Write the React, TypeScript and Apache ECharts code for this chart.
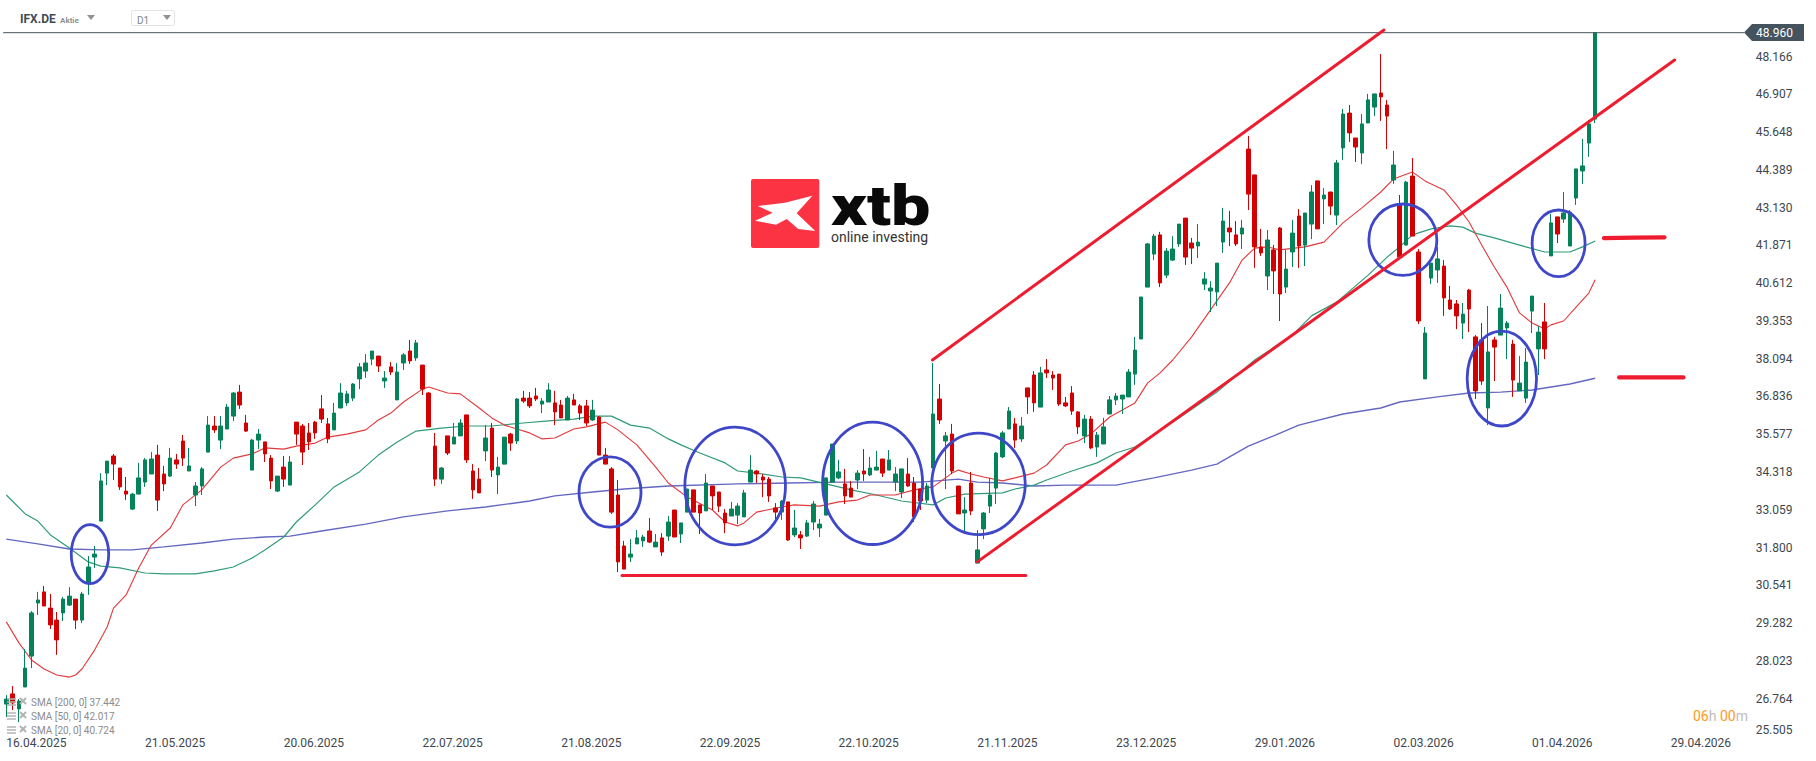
import React, { useEffect, useRef } from "react";
import * as echarts from "echarts";

const opens = [26.58,26.92,26.42,27.15,28.18,29.95,30.32,29.78,29.38,29.62,
29.88,30.08,29.38,30.62,31.48,32.68,34.28,34.85,34.45,33.68,
33.08,33.58,33.98,34.25,34.88,34.25,34.18,34.72,35.35,34.35,
33.55,33.85,34.98,35.85,35.38,35.75,36.18,36.98,35.95,34.38,
35.38,35.32,34.78,33.68,34.48,33.88,35.98,35.85,35.62,35.98,
36.42,35.92,35.72,36.45,36.62,36.78,37.42,37.68,38.08,38.18,
37.35,37.82,36.72,37.95,38.35,38.12,37.88,36.95,35.18,34.08,
35.52,35.25,35.52,36.22,34.35,34.08,35.02,35.78,34.22,34.58,
35.58,35.35,36.78,36.78,36.85,36.58,36.65,36.62,36.55,36.05,
36.72,36.52,36.52,36.05,36.15,34.88,34.42,33.55,31.85,31.48,
31.92,32.02,32.35,31.82,32.12,32.18,33.05,32.25,32.98,33.72,
33.22,33.02,33.85,33.65,32.95,32.85,32.88,32.82,33.98,34.35,
34.15,34.08,33.12,32.98,33.32,32.22,32.22,32.18,32.65,32.45,
32.88,33.98,34.12,33.92,33.78,34.05,34.35,34.22,34.38,34.75,
34.38,33.98,33.65,34.25,33.95,33.75,33.38,34.45,36.75,35.35,
35.58,33.85,32.95,33.95,31.28,32.42,33.18,33.78,34.82,35.75,
35.92,35.42,37.12,37.55,36.48,37.72,37.55,37.58,36.62,36.95,
36.32,35.52,36.08,35.15,35.25,36.25,36.72,36.75,36.82,37.58,
38.75,40.48,41.58,42.22,40.88,41.38,41.92,42.78,41.95,41.85,
40.58,40.35,40.32,41.98,42.45,42.22,42.25,45.08,44.22,41.82,
40.85,41.72,42.45,40.48,41.65,42.85,41.88,42.58,44.02,43.42,
43.65,42.88,45.12,46.28,45.45,44.95,45.95,46.48,46.95,46.55,
44.05,43.22,41.88,44.18,41.65,37.42,40.78,41.05,41.18,40.05,
39.92,39.28,40.38,38.82,38.72,36.45,38.72,38.88,39.12,38.58,
37.02,36.78,39.68,38.42,39.32,41.52,42.82,42.75,41.85,43.45,
44.35,45.28,46.08];

const closes = [26.75,26.62,26.68,27.78,29.62,30.05,29.85,29.22,28.72,30.08,
30.18,29.38,30.25,31.15,31.58,34.02,34.68,34.58,33.82,33.58,
33.58,34.12,34.72,34.75,33.38,33.92,34.78,34.58,34.78,34.52,
33.85,34.42,35.88,35.72,35.85,36.48,36.95,36.55,35.68,35.38,
35.58,34.92,34.02,34.18,34.08,34.65,35.58,34.98,35.32,35.62,
36.08,35.42,36.28,36.95,36.92,37.25,37.82,37.95,38.35,37.85,
37.45,37.65,37.65,38.22,38.02,38.62,37.08,35.82,34.08,34.45,
34.95,35.48,35.95,34.72,33.72,33.62,35.45,34.38,34.48,35.48,
35.28,36.75,36.68,36.52,36.75,36.68,37.05,36.32,36.12,36.78,
36.55,36.28,35.95,36.38,34.88,34.58,32.98,31.32,31.08,31.58,
32.12,32.15,31.98,31.98,31.65,32.65,32.15,32.62,33.75,32.98,
32.95,33.95,33.52,33.18,32.62,33.08,33.18,33.62,34.38,34.25,
34.05,33.52,32.98,33.35,32.05,32.45,32.12,32.62,33.25,32.58,
34.12,35.25,34.32,33.52,33.48,34.28,34.25,34.45,34.48,34.28,
34.72,34.25,34.42,33.85,32.82,33.35,33.85,36.25,36.05,35.52,
34.35,32.92,33.05,33.02,31.72,32.95,33.55,34.95,35.62,36.35,
35.38,35.85,36.82,36.62,37.62,37.62,37.45,36.58,36.52,36.35,
35.82,36.08,35.12,35.55,35.82,36.72,36.85,36.88,37.65,38.38,
40.15,41.92,42.18,40.62,41.68,41.75,42.58,41.48,41.78,41.98,
40.75,40.45,41.28,42.68,42.32,41.92,42.45,43.58,41.82,41.62,
42.05,41.02,40.25,41.08,42.28,41.85,42.95,43.65,42.42,43.55,
43.18,44.62,46.25,45.62,45.15,45.92,46.72,46.92,46.82,46.18,
44.55,41.48,43.98,42.18,39.35,38.95,41.28,41.42,40.12,39.75,
39.52,39.58,39.75,37.02,37.35,38.32,38.48,39.78,39.28,37.38,
37.28,37.98,40.18,38.98,38.42,42.62,42.25,42.95,42.98,44.42,
44.52,45.92,48.96];

const lows = [26.15,26.38,25.98,27.15,27.78,29.55,29.85,29.08,28.22,29.35,
29.85,29.08,29.28,30.22,31.12,32.68,33.88,34.05,33.72,33.38,
33.05,33.58,33.82,34.25,33.02,33.68,34.15,34.42,34.52,34.35,
33.18,33.55,34.98,35.62,35.08,35.75,36.02,36.42,35.65,34.38,
35.08,34.65,33.75,33.65,33.82,33.88,35.22,34.55,35.05,35.42,
35.95,35.28,35.72,36.45,36.52,36.68,37.08,37.45,37.88,37.65,
37.12,37.55,36.72,37.72,37.92,38.02,36.88,35.82,33.85,33.92,
34.88,35.25,35.52,34.62,33.42,33.62,34.68,34.15,33.58,34.58,
35.02,35.25,36.62,36.45,36.68,36.28,36.65,35.88,36.12,36.05,
36.55,36.05,35.85,36.02,34.88,34.58,32.92,30.98,31.08,31.32,
31.92,31.82,31.95,31.82,31.52,32.02,32.15,31.95,32.98,32.98,
32.25,33.02,33.05,32.98,32.28,32.85,32.58,32.82,33.98,33.95,
33.48,33.32,32.72,32.72,32.02,32.15,31.75,32.15,32.38,32.15,
32.88,33.98,34.08,33.25,33.48,33.75,34.02,34.18,34.38,34.15,
34.38,33.68,33.45,33.82,32.65,33.05,33.28,34.45,35.92,33.75,
34.25,32.92,32.35,32.88,31.28,32.08,32.95,33.25,34.78,35.75,
35.12,35.32,36.25,36.32,36.48,37.45,37.05,36.52,36.48,36.22,
35.58,35.28,35.08,34.82,35.25,36.25,36.55,36.25,36.82,37.22,
38.75,40.48,41.38,40.48,40.78,41.35,41.82,41.22,41.25,41.45,
40.38,39.65,39.85,41.62,41.85,41.85,41.75,43.05,41.12,41.52,
40.38,40.25,39.35,40.28,41.15,41.12,41.18,42.08,42.42,42.58,
42.88,42.55,44.72,45.32,44.65,44.58,45.95,46.18,46.02,45.08,
43.92,41.48,41.88,42.18,39.25,37.42,40.58,40.62,39.52,39.72,
39.08,38.75,38.98,36.75,37.22,35.88,37.35,38.88,38.08,36.82,
37.02,36.62,38.95,37.55,38.08,41.52,41.95,42.62,41.85,43.22,
43.92,44.82,45.95];

const highs = [26.88,27.18,26.75,28.42,29.68,30.32,30.52,30.25,29.65,30.15,
30.48,30.08,30.32,31.52,31.85,34.28,34.68,34.92,34.45,34.15,
33.62,34.62,34.78,34.98,35.22,34.52,35.12,34.92,35.55,35.12,
33.98,34.48,36.18,36.18,36.18,36.58,36.98,37.22,36.22,35.42,
35.75,35.32,34.88,34.18,34.85,34.85,35.98,35.92,35.95,36.02,
36.88,36.12,36.62,37.28,37.02,37.28,37.95,38.25,38.35,38.18,
37.68,37.98,37.95,38.28,38.72,38.72,37.88,36.98,35.62,34.48,
35.52,35.95,36.08,36.22,34.58,34.45,35.88,35.95,34.82,35.48,
35.62,36.78,37.02,36.98,37.12,36.78,37.28,37.02,36.72,36.85,
36.92,36.58,36.72,36.72,36.18,35.12,34.48,34.05,32.02,32.08,
32.38,32.22,32.78,32.25,32.28,32.85,33.05,32.62,33.75,33.72,
33.22,34.25,33.85,33.65,33.08,33.32,33.28,33.72,34.88,34.38,
34.25,34.15,33.28,33.38,33.32,33.05,32.35,32.72,33.35,32.75,
34.12,35.25,34.72,34.42,34.02,34.38,35.08,34.82,35.02,34.75,
35.05,34.48,34.42,34.78,34.15,33.75,33.95,37.95,37.25,35.65,
35.92,33.85,33.48,34.32,32.38,32.98,34.12,34.98,35.68,36.48,
36.12,36.15,37.12,37.68,37.82,38.08,37.68,37.58,36.82,37.18,
36.35,36.22,36.18,35.65,36.12,36.85,36.95,36.88,37.75,38.82,
40.15,41.95,42.25,42.32,41.78,42.18,42.58,42.78,42.12,42.58,
40.98,40.68,41.28,43.12,43.02,42.68,42.72,45.52,44.22,42.42,
42.38,41.88,42.48,41.72,42.72,43.08,42.95,43.88,44.02,43.78,
43.65,44.72,46.42,46.55,45.45,46.25,46.92,46.92,48.25,46.72,
45.02,43.55,44.02,44.78,41.75,39.15,41.28,41.82,41.38,40.52,
40.05,39.95,40.42,38.88,39.28,39.85,38.82,40.25,39.35,38.72,
38.18,38.45,40.18,39.18,39.95,42.92,42.82,43.65,43.05,44.42,
45.42,46.05,48.96];

const sma20 = [[0,29.32],[2,28.62],[4,28.05],[6,27.75],[8,27.55],[10,27.48],[11,27.55],[12,27.75],[14,28.38],[16,29.15],[17,29.78],[19,30.22],[21,31.12],[23,31.88],[26,32.45],[28,33.22],[31,33.72],[34,34.48],[36,34.78],[39,34.92],[41,35.12],[44,35.08],[46,35.18],[49,35.28],[51,35.48],[54,35.58],[57,35.72],[59,36.05],[61,36.28],[63,36.65],[66,37.08],[67,37.15],[70,36.95],[72,36.92],[75,36.45],[77,36.12],[79,35.88],[81,35.75],[83,35.62],[85,35.42],[87,35.45],[90,35.75],[92,35.82],[95,35.98],[97,35.72],[100,35.22],[103,34.48],[105,33.95],[108,33.48],[112,33.05],[114,32.65],[116,32.52],[117,32.62],[119,32.98],[123,33.15],[125,33.22],[129,33.18],[132,33.32],[135,33.38],[137,33.55],[141,33.55],[144,33.72],[147,33.82],[150,34.28],[151,34.38],[153,34.25],[155,34.15],[158,34.02],[160,34.12],[163,34.28],[165,34.55],[168,35.22],[170,35.35],[172,35.58],[175,36.15],[179,36.62],[181,37.28],[183,37.62],[185,38.05],[188,38.82],[191,39.72],[194,40.62],[196,41.38],[198,41.78],[200,41.82],[202,41.72],[206,41.82],[209,41.98],[212,42.62],[215,43.12],[218,43.65],[220,44.08],[223,44.32],[225,44.02],[228,43.72],[230,43.22],[232,42.65],[234,41.88],[236,41.15],[238,40.48],[240,39.62],[242,39.28],[244,39.08],[245,39.22],[247,39.35],[249,39.82],[251,40.28],[252,40.724]];

const sma50 = [[0,33.55],[3,32.92],[5,32.68],[7,32.22],[10,31.78],[13,31.32],[15,31.18],[18,31.12],[22,30.95],[25,30.92],[30,30.92],[33,31.02],[36,31.15],[39,31.45],[41,31.72],[44,32.15],[46,32.65],[49,33.22],[52,33.82],[56,34.32],[59,34.88],[62,35.32],[65,35.68],[69,35.78],[73,35.85],[77,35.85],[82,35.95],[86,36.02],[90,36.08],[93,36.18],[96,36.18],[99,35.88],[102,35.78],[105,35.42],[107,35.22],[110,34.95],[114,34.62],[116,34.35],[119,34.28],[123,34.15],[126,34.12],[130,33.92],[134,33.72],[138,33.55],[142,33.35],[147,33.22],[149,33.45],[152,33.58],[158,33.62],[160,33.75],[163,33.88],[165,34.05],[169,34.35],[173,34.62],[176,34.95],[179,35.15],[186,36.12],[192,36.98],[198,38.05],[204,38.88],[207,39.52],[211,39.98],[216,40.88],[219,41.48],[221,41.82],[223,42.22],[226,42.42],[229,42.52],[231,42.48],[233,42.28],[236,42.12],[241,41.82],[244,41.65],[248,41.65],[250,41.82],[252,42.017]];

const sma200 = [[0,32.08],[5,31.92],[10,31.75],[15,31.72],[20,31.72],[25,31.82],[31,31.95],[36,32.08],[41,32.15],[45,32.18],[50,32.35],[57,32.58],[63,32.82],[70,33.02],[76,33.15],[83,33.35],[87,33.52],[93,33.65],[98,33.75],[105,33.85],[116,33.92],[124,33.95],[132,33.98],[145,33.98],[151,34.08],[154,33.98],[158,33.95],[163,33.85],[168,33.88],[176,33.88],[182,34.12],[188,34.38],[192,34.58],[197,35.18],[201,35.52],[205,35.88],[212,36.25],[218,36.45],[221,36.65],[227,36.82],[232,36.95],[237,36.98],[242,37.05],[248,37.25],[252,37.442]];

// centre bar, centre price, half-width in bars, half-height in price
const circles = [[13.27,31.58,2.97,0.98],[95.75,33.65,4.92,1.17],[115.6,33.85,7.98,1.96],[137.4,33.94,7.93,2.04],[154.2,33.92,7.41,1.69],[221.5,42.06,5.39,1.19],[237.2,37.43,5.5,1.58],[246.2,41.94,4.2,1.11]];

const supportLine = [[97.65,30.87],[161.7,30.87]];
const channelLower = [[154.0,31.32],[264.6,48.05]];
const channelUpper = [[146.9,38.05],[218.5,49.05]];
const targetUpper = [[253.4,42.11],[258.2,42.13],[263.0,42.14]];
const targetLower = [[255.8,37.47],[266.0,37.47]];

const lastPrice = 48.96;
const lastPriceLine = [[-0.5,lastPrice],[275.6,lastPrice]];

const priceTicks = [25.505,26.764,28.023,29.282,30.541,31.8,33.059,34.318,35.577,36.836,38.094,39.353,40.612,41.871,43.13,44.389,45.648,46.907,48.166];
const dateTicks = ["16.04.2025","21.05.2025","20.06.2025","22.07.2025","21.08.2025","22.09.2025","22.10.2025","21.11.2025","23.12.2025","29.01.2026","02.03.2026","01.04.2026","29.04.2026"];
const legendRows = ["SMA [200, 0] 37.442","SMA [50, 0] 42.017","SMA [20, 0] 40.724"];
const symbol = "IFX.DE";
const assetClass = "Aktie";
const timeframe = "D1";

const FONT = "Roboto, sans-serif";
const GREEN = "#04835a";
const RED = "#d20000";
const TRENDRED = "#ee1c2e";
const SLOTS = 277;
const BAND = 6.305;

function tri(x: number, y: number) {
  return { type: "polygon", shape: { points: [[x, y], [x + 8, y], [x + 4, y + 5]] }, style: { fill: "#8d9296" } };
}

function legendGraphics(): any[] {
  const out: any[] = [];
  legendRows.forEach((t, k) => {
    const cy = [702, 716, 730][k];
    for (let s = 0; s < 3; s++) {
      out.push({ type: "rect", shape: { x: 7, y: cy - 4 + s * 3, width: 9, height: 2 }, style: { fill: "#b4b4b4", opacity: 0.75 } });
    }
    out.push({ type: "line", shape: { x1: 20, y1: cy - 4, x2: 26, y2: cy + 2 }, style: { stroke: "#b4b4b4", lineWidth: 2 } });
    out.push({ type: "line", shape: { x1: 26, y1: cy - 4, x2: 20, y2: cy + 2 }, style: { stroke: "#b4b4b4", lineWidth: 2 } });
    out.push({ type: "text", x: 31, y: cy, style: { text: t, fill: "#8c8c8c", font: `10px ${FONT}`, verticalAlign: "middle" } });
  });
  return out;
}

function chromeGraphics(): any[] {
  return [
    { type: "text", x: 20, y: 19, style: { text: symbol, fill: "#414c55", font: `bold 12px ${FONT}`, verticalAlign: "middle" } },
    { type: "text", x: 60, y: 20, style: { text: assetClass, fill: "#8d9296", font: `bold 8px ${FONT}`, verticalAlign: "middle" } },
    tri(87, 15),
    { type: "rect", shape: { x: 131.5, y: 10.5, width: 43, height: 15, r: 2 }, style: { fill: "#fff", stroke: "#e3e3e3", lineWidth: 1 } },
    { type: "text", x: 137, y: 20, style: { text: timeframe, fill: "#80868b", font: `10px ${FONT}`, verticalAlign: "middle" } },
    tri(163, 15),
    // last-price tag
    { type: "polygon", shape: { points: [[1744, 32.5], [1752, 24], [1804, 24], [1804, 41], [1752, 41]] }, style: { fill: "#44535e" } },
    { type: "text", x: 1756, y: 33, style: { text: lastPrice.toFixed(3), fill: "#fff", font: `12px ${FONT}`, verticalAlign: "middle" } },
    // countdown
    {
      type: "text", x: 1693, y: 716,
      style: {
        text: "{a|06}{b|h} {a|00}{b|m}", verticalAlign: "middle",
        font: `14px ${FONT}`,
        rich: { a: { fill: "#ff9a1a", font: `14px ${FONT}` }, b: { fill: "#bdbdbd", font: `14px ${FONT}` } },
      },
    },
    // logo
    { type: "rect", shape: { x: 751, y: 179, width: 68.3, height: 69, r: 2 }, style: { fill: "#fb3343" } },
    {
      type: "polygon",
      shape: { points: [[757.7, 206], [785, 202.7], [812.3, 195.7], [796.7, 213.3], [815.3, 231], [798.3, 229], [786.7, 219], [776, 224.7], [755, 220.7], [772.7, 212.7]] },
      style: { fill: "#fff" },
    },
    { type: "text", x: 831, y: 206, scaleX: 1.25, style: { text: "xtb", fill: "#0a0a0a", font: `900 56px ${FONT}`, verticalAlign: "middle" } },
    { type: "text", x: 831, y: 237, style: { text: "online investing", fill: "#333", font: `14px ${FONT}`, verticalAlign: "middle" } },
  ];
}

function trend(data: number[][], width: number) {
  return {
    type: "line", xAxisIndex: 1, data, symbol: "none", z: 6, silent: true,
    lineStyle: { color: TRENDRED, width, cap: "round" },
  };
}

function smaLine(data: number[][], color: string, width: number) {
  return {
    type: "line", xAxisIndex: 1, data, symbol: "none", z: 1, silent: true,
    lineStyle: { color, width },
  };
}

export default function App() {
  const ref = useRef<HTMLDivElement>(null);
  useEffect(() => {
    if (!ref.current) return;
    const chart = echarts.init(ref.current, undefined, { renderer: "svg" });
    const categories = Array.from({ length: SLOTS }, (_, i) => String(i));
    chart.setOption({
      animation: false,
      backgroundColor: "#fff",
      textStyle: { fontFamily: FONT },
      grid: { left: 3.15, top: 0, width: SLOTS * BAND, height: 736.35, containLabel: false },
      xAxis: [
        {
          type: "category", data: categories, boundaryGap: true,
          axisLine: { show: false }, axisTick: { show: false }, splitLine: { show: false },
          axisLabel: {
            interval: 21, margin: 1, align: "left", color: "#3d4750", fontSize: 12, fontFamily: FONT,
            formatter: (_: string, i: number) => dateTicks[i / 22] ?? "",
          },
        },
        { type: "value", min: -0.5, max: SLOTS - 0.5, show: false },
      ],
      yAxis: {
        type: "value", position: "right", min: 25.505, max: 50.05, scale: true,
        axisLine: { show: false }, axisTick: { show: false }, splitLine: { show: false },
        axisLabel: {
          customValues: priceTicks, margin: 6, color: "#3d4750", fontSize: 12, fontFamily: FONT,
          verticalAlignMinLabel: "bottom",
          formatter: (v: number) => v.toFixed(3),
        },
      },
      series: [
        smaLine(sma200, "#6468c0", 1.4),
        smaLine(sma50, "#2f9b78", 1.2),
        smaLine(sma20, "#e2393c", 1.1),
        {
          type: "candlestick", xAxisIndex: 0, z: 3, barWidth: 4, silent: true,
          data: opens.map((o, i) => [o, closes[i], lows[i], highs[i]]),
          itemStyle: { color: GREEN, color0: RED, borderColor: GREEN, borderColor0: RED, borderWidth: 1 },
        },
        {
          type: "line", xAxisIndex: 1, data: lastPriceLine, symbol: "none", z: 4, silent: true,
          lineStyle: { color: "#44535e", width: 1 },
        },
        {
          type: "custom", xAxisIndex: 1, coordinateSystem: "cartesian2d", z: 5, silent: true, clip: false,
          data: circles, encode: { x: 0, y: 1 },
          renderItem: (_: any, api: any) => {
            const c = api.coord([api.value(0), api.value(1)]);
            const s = api.size([api.value(2), api.value(3)]);
            return {
              type: "ellipse",
              shape: { cx: c[0], cy: c[1], rx: s[0], ry: s[1] },
              style: { fill: "none", stroke: "#3f47c9", lineWidth: 2.8 },
            };
          },
        },
        trend(supportLine, 3),
        trend(channelLower, 3),
        trend(channelUpper, 3),
        trend(targetUpper, 4.2),
        trend(targetLower, 4.2),
      ],
      graphic: [...chromeGraphics(), ...legendGraphics()].map((g) => ({ ...g, z: 20 })),
    });
    return () => chart.dispose();
  }, []);
  return <div ref={ref} style={{ position: "fixed", left: 0, top: 0, width: 1816, height: 761 }} />;
}
